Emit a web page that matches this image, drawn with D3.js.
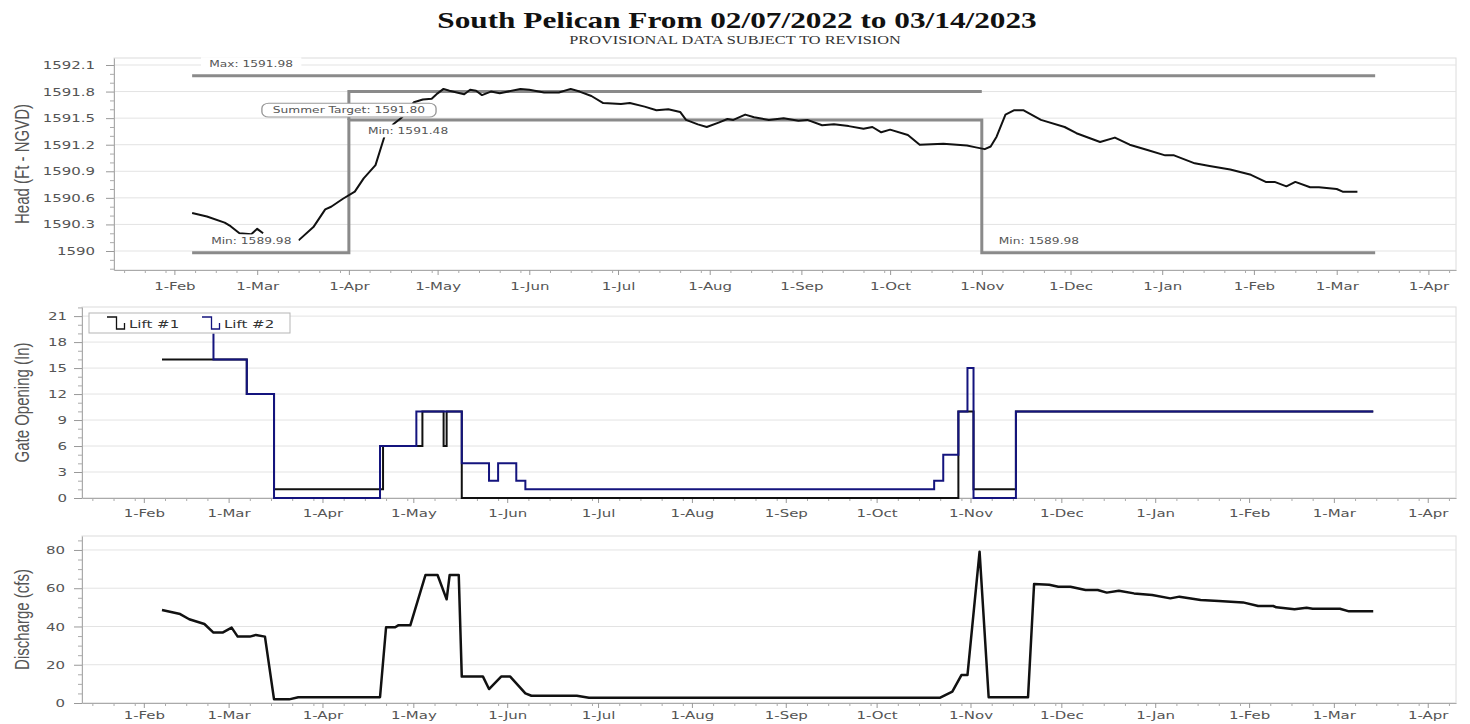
<!DOCTYPE html>
<html><head><meta charset="utf-8">
<script src="https://cdn.jsdelivr.net/npm/d3@7"></script>
<style>body{margin:0;background:#fff;}svg{display:block;}</style>
</head><body>
<svg id="c" width="1470" height="724"></svg>
<script>
// ---------- DATA ----------
const headDates = ["2022-02-07","2022-02-12","2022-02-18","2022-02-20","2022-02-23","2022-02-27","2022-03-01","2022-03-03","2022-03-09","2022-03-15","2022-03-20","2022-03-24","2022-03-26","2022-03-30","2022-04-03","2022-04-06","2022-04-10","2022-04-13","2022-04-16","2022-04-19","2022-04-23","2022-04-26","2022-04-29","2022-05-01","2022-05-03","2022-05-05","2022-05-10","2022-05-12","2022-05-14","2022-05-16","2022-05-19","2022-05-22","2022-05-29","2022-06-01","2022-06-06","2022-06-11","2022-06-15","2022-06-18","2022-06-22","2022-06-26","2022-07-02","2022-07-05","2022-07-10","2022-07-14","2022-07-18","2022-07-22","2022-07-24","2022-07-28","2022-07-31","2022-08-04","2022-08-07","2022-08-09","2022-08-13","2022-08-16","2022-08-21","2022-08-26","2022-08-31","2022-09-03","2022-09-08","2022-09-12","2022-09-17","2022-09-22","2022-09-25","2022-09-28","2022-10-01","2022-10-07","2022-10-11","2022-10-19","2022-10-27","2022-10-30","2022-11-02","2022-11-04","2022-11-06","2022-11-09","2022-11-12","2022-11-15","2022-11-21","2022-11-29","2022-12-03","2022-12-11","2022-12-16","2022-12-21","2022-12-27","2023-01-02","2023-01-05","2023-01-12","2023-01-17","2023-01-24","2023-01-31","2023-02-05","2023-02-08","2023-02-12","2023-02-15","2023-02-20","2023-02-23","2023-03-01","2023-03-03","2023-03-08"];
const headValues = [1590.43,1590.39,1590.32,1590.28,1590.20,1590.19,1590.25,1590.20,null,1590.12,1590.27,1590.47,1590.50,1590.59,1590.67,1590.82,1590.97,1591.29,1591.43,1591.51,1591.68,1591.71,1591.72,1591.78,1591.83,1591.81,1591.77,1591.82,1591.81,1591.76,1591.80,1591.78,1591.83,1591.82,1591.79,1591.79,1591.83,1591.80,1591.75,1591.67,1591.66,1591.67,1591.63,1591.59,1591.60,1591.57,1591.48,1591.43,1591.40,1591.45,1591.49,1591.48,1591.54,1591.51,1591.48,1591.50,1591.47,1591.48,1591.42,1591.43,1591.41,1591.38,1591.40,1591.34,1591.37,1591.31,1591.20,1591.21,1591.19,1591.17,1591.15,1591.18,1591.29,1591.54,1591.59,1591.59,1591.48,1591.40,1591.33,1591.23,1591.28,1591.20,1591.14,1591.08,1591.08,1590.99,1590.96,1590.92,1590.86,1590.78,1590.78,1590.73,1590.78,1590.72,1590.72,1590.70,1590.67,1590.67];

const maxDates = ["2022-02-07","2023-03-14"];
const maxValues = [1591.98,1591.98];
const minDates = ["2022-02-07","2022-04-01","2022-11-01","2023-03-14"];
const minValues = [1589.98,1591.48,1589.98,1589.98];
const targetDates = ["2022-04-01","2022-04-01","2022-11-01"];
const targetValues = [1591.48,1591.80,1591.80];

const lift1Dates = ["2022-02-07","2022-03-07","2022-03-16","2022-04-21","2022-05-04","2022-05-11","2022-05-12","2022-05-17","2022-10-28","2022-11-02","2022-11-16","2023-03-14"];
const lift1Values = [16,12,1,6,10,6,10,0,10,1,10,10];
const lift2Dates = ["2022-02-24","2022-02-24","2022-03-07","2022-03-16","2022-04-20","2022-05-02","2022-05-17","2022-05-26","2022-05-29","2022-06-04","2022-06-07","2022-10-20","2022-10-23","2022-10-28","2022-10-31","2022-11-02","2022-11-16","2023-03-14"];
const lift2Values = [19,16,12,0,6,10,4,2,4,2,1,2,5,10,15,0,10,10];

const dischargeDates = ["2022-02-07","2022-02-13","2022-02-16","2022-02-21","2022-02-24","2022-02-27","2022-03-02","2022-03-04","2022-03-08","2022-03-10","2022-03-13","2022-03-16","2022-03-21","2022-03-24","2022-04-20","2022-04-22","2022-04-25","2022-04-26","2022-04-30","2022-05-05","2022-05-09","2022-05-12","2022-05-13","2022-05-16","2022-05-17","2022-05-24","2022-05-26","2022-05-30","2022-06-02","2022-06-07","2022-06-09","2022-06-24","2022-06-28","2022-10-22","2022-10-26","2022-10-29","2022-10-31","2022-11-04","2022-11-07","2022-11-20","2022-11-22","2022-11-27","2022-11-30","2022-12-04","2022-12-09","2022-12-13","2022-12-16","2022-12-20","2022-12-25","2022-12-31","2023-01-06","2023-01-09","2023-01-16","2023-01-22","2023-01-30","2023-02-04","2023-02-09","2023-02-10","2023-02-16","2023-02-20","2023-02-22","2023-03-03","2023-03-06","2023-03-14"];
const dischargeValues = [48.6,46.5,43.8,41.3,36.8,36.8,39.4,34.7,34.7,35.6,34.7,1.9,1.9,3.0,3.0,39.6,39.6,40.6,40.6,66.9,66.9,54.2,66.9,66.9,13.8,13.8,7.3,13.8,13.8,5.0,3.8,3.8,2.8,2.8,5.9,14.6,14.6,79.1,3.0,3.0,62.2,61.8,60.8,60.8,59.1,59.1,57.7,58.7,57.3,56.5,54.7,55.6,53.9,53.3,52.6,50.7,50.7,50.0,49.0,49.8,49.3,49.3,47.9,47.9];

const headTicks = [1590,1590.3,1590.6,1590.9,1591.2,1591.5,1591.8,1592.1];
const gateTicks = [0,3,6,9,12,15,18,21];
const dischargeTicks = [0,20,40,60,80];
const xDomainStrings = ["2022-01-11T14","2023-04-10T08"];

// ---------- SETUP ----------
const SX = 1.36;               // horizontal stretch of the original image
const FONT = "'DejaVu Sans', Verdana, sans-serif";
const parse = d3.timeParse("%Y-%m-%d");
const parseH = d3.timeParse("%Y-%m-%dT%H");
const xDomain = xDomainStrings.map(parseH);
const svg = d3.select("#c");
const zip = (ds, vs) => ds.map((d, i) => ({date: parse(d), value: vs[i]}));

// Title
svg.append("text").attr("transform", `translate(737,28) scale(${SX},1)`)
  .attr("text-anchor", "middle").attr("font-family", "'Liberation Serif', 'Times New Roman', serif")
  .attr("font-weight", "bold").attr("font-size", 23).attr("fill", "#111")
  .text("South Pelican From 02/07/2022 to 03/14/2023");
svg.append("text").attr("transform", `translate(735,44) scale(${SX},1)`)
  .attr("text-anchor", "middle").attr("font-family", "'Liberation Serif', 'Times New Roman', serif")
  .attr("font-size", 12).attr("fill", "#333")
  .text("PROVISIONAL DATA SUBJECT TO REVISION");

function panel(cfg) {
  const {left, right, top, bottom, yDomain, ticks, minorStep, title, fmt, labelOff, xLabelY} = cfg;
  const x = d3.scaleTime().domain(xDomain).range([left, right]);
  const y = d3.scaleLinear().domain(yDomain).range([bottom, top]);
  const g = svg.append("g");
  g.append("rect").attr("x", left).attr("y", top).attr("width", right - left).attr("height", bottom - top)
    .attr("fill", "#fff").attr("stroke", "#dcdcdc");
  g.append("g").selectAll("line").data(ticks).join("line")
    .attr("x1", left).attr("x2", right).attr("y1", d => y(d)).attr("y2", d => y(d))
    .attr("stroke", "#e3e3e3");
  const minor = d3.range(Math.ceil(yDomain[0] / minorStep) * minorStep, yDomain[1], minorStep)
    .filter(v => !ticks.some(t => Math.abs(t - v) < 1e-6));
  const ym = g.append("g").attr("transform", `translate(${left},0)`)
    .call(d3.axisLeft(y).tickValues(minor).tickSize(4).tickSizeOuter(0).tickFormat(""));
  ym.select(".domain").remove();
  ym.selectAll("line").attr("stroke", "#aaa");
  const ya = g.append("g").attr("transform", `translate(${left},0)`)
    .call(d3.axisLeft(y).tickValues(ticks).tickSize(8).tickSizeOuter(0).tickFormat(fmt));
  ya.select(".domain").attr("stroke", "#aaa");
  ya.selectAll(".tick line").attr("stroke", "#999");
  ya.selectAll("text").attr("font-family", FONT).attr("font-size", 11).attr("fill", "#555")
    .attr("x", -labelOff / SX).attr("transform", `scale(${SX},1)`);
  const minorX = d3.timeDay.range(xDomain[0], xDomain[1]).filter(d => [8, 15, 22, 29].includes(d.getDate()));
  const xm = g.append("g").attr("transform", `translate(0,${bottom})`)
    .call(d3.axisBottom(x).tickValues(minorX).tickSize(3).tickSizeOuter(0).tickFormat(""));
  xm.select(".domain").remove();
  xm.selectAll("line").attr("stroke", "#aaa");
  const xa = g.append("g").attr("transform", `translate(0,${bottom})`)
    .call(d3.axisBottom(x).ticks(d3.timeMonth.every(1)).tickSize(5).tickSizeOuter(0).tickFormat(d3.timeFormat("%-d-%b")));
  xa.select(".domain").attr("stroke", "#aaa");
  xa.selectAll(".tick line").attr("stroke", "#999");
  xa.selectAll("text").attr("font-family", FONT).attr("font-size", 11).attr("fill", "#555")
    .attr("y", xLabelY).attr("dy", 0).attr("transform", `scale(${SX},1)`);
  svg.append("text").attr("transform", `translate(21.5,${(top + bottom) / 2}) scale(${SX},1) rotate(-90)`)
    .attr("text-anchor", "middle").attr("dy", "0.35em")
    .attr("font-family", "'Liberation Sans', Arial, sans-serif").attr("font-size", 15).attr("fill", "#555")
    .text(title);
  return {x, y, g};
}

function label(g, x, y, txt, opts = {}) {
  const lg = g.append("g").attr("transform", `translate(${x},${y}) scale(${SX},1)`);
  const r = lg.append("rect").attr("fill", "#fff");
  const t = lg.append("text").attr("font-family", FONT).attr("font-size", 9).attr("fill", "#555")
    .attr("text-anchor", opts.anchor || "start").text(txt);
  const bb = t.node().getBBox();
  const px = opts.padX ?? 5, py = opts.padY ?? 1;
  r.attr("x", bb.x - px).attr("y", bb.y - py).attr("width", bb.width + 2 * px).attr("height", bb.height + 2 * py);
  if (opts.box) r.attr("stroke", "#999").attr("stroke-width", 1).attr("rx", 5);
  return lg;
}

// ---------- HEAD PANEL ----------
const H = panel({left: 114, right: 1456, top: 58, bottom: 270, yDomain: [1589.7855, 1592.179],
  ticks: headTicks, minorStep: 0.1, title: "Head (Ft - NGVD)", fmt: d => String(+d.toFixed(1)), labelOff: 19, xLabelY: 20});
const lineH = d3.line().defined(d => d.value != null).x(d => H.x(d.date)).y(d => H.y(d.value));
const thr = [zip(maxDates, maxValues), zip(minDates, minValues), zip(targetDates, targetValues)];
H.g.append("path").datum(thr[0]).attr("d", lineH).attr("fill", "none").attr("stroke", "#8a8a8a").attr("stroke-width", 3);
H.g.append("path").datum(thr[1]).attr("d", lineH.curve(d3.curveStepAfter)).attr("fill", "none").attr("stroke", "#8a8a8a").attr("stroke-width", 3);
lineH.curve(d3.curveLinear);
H.g.append("path").datum(thr[2]).attr("d", lineH).attr("fill", "none").attr("stroke", "#8a8a8a").attr("stroke-width", 3);
H.g.append("path").datum(zip(headDates, headValues)).attr("d", lineH).attr("fill", "none")
  .attr("stroke", "#111").attr("stroke-width", 2).attr("stroke-linejoin", "round");
const d0 = parse(minDates[0]), dApr = parse(minDates[1]), dNov = parse(minDates[2]);
label(H.g, H.x(d0) + 17, H.y(maxValues[0]) - 9, "Max: " + maxValues[0].toFixed(2), {padX: 6});
label(H.g, H.x(d0) + 19, H.y(minValues[0]) - 9, "Min: " + minValues[0].toFixed(2));
label(H.g, H.x(dApr) + 19, H.y(minValues[1]) + 14, "Min: " + minValues[1].toFixed(2), {padX: 2});
label(H.g, H.x(dNov) + 17, H.y(minValues[2]) - 9, "Min: " + minValues[2].toFixed(2));
label(H.g, H.x(dApr), H.y(targetValues[2]) + 21.5, "Summer Target: " + targetValues[2].toFixed(2),
  {anchor: "middle", box: true, padX: 8, padY: 1.5});

// ---------- GATE PANEL ----------
const G = panel({left: 82, right: 1456, top: 307, bottom: 498, yDomain: [0, 22.05],
  ticks: gateTicks, minorStep: 1, title: "Gate Opening (In)", fmt: d => d, labelOff: 15, xLabelY: 19});
const lineG = d3.line().curve(d3.curveStepAfter).x(d => G.x(d.date)).y(d => G.y(d.value));
G.g.append("path").datum(zip(lift1Dates, lift1Values)).attr("d", lineG).attr("fill", "none")
  .attr("stroke", "#111").attr("stroke-width", 2);
G.g.append("path").datum(zip(lift2Dates, lift2Values)).attr("d", lineG).attr("fill", "none")
  .attr("stroke", "#14147e").attr("stroke-width", 2);
const lg = G.g.append("g").attr("transform", `translate(${82 + 7},${307 + 6})`);
lg.append("rect").attr("width", 201).attr("height", 20).attr("fill", "#fff").attr("stroke", "#b5b5b5");
const items = [{name: "Lift #1", color: "#111", x: 18}, {name: "Lift #2", color: "#14147e", x: 113}];
items.forEach(it => {
  lg.append("path").attr("d", `M${it.x},4 H${it.x + 9.5} V16 H${it.x + 17.5} V10`)
    .attr("fill", "none").attr("stroke", it.color).attr("stroke-width", 1.3);
  lg.append("text").attr("transform", `translate(${it.x + 22},14.5) scale(${SX},1)`)
    .attr("font-family", FONT).attr("font-size", 11).attr("fill", "#333").text(it.name);
});

// ---------- DISCHARGE PANEL ----------
const D = panel({left: 82, right: 1456, top: 536, bottom: 703, yDomain: [0, 87.3],
  ticks: dischargeTicks, minorStep: 5, title: "Discharge (cfs)", fmt: d => d, labelOff: 17, xLabelY: 16.5});
const lineD = d3.line().x(d => D.x(d.date)).y(d => D.y(d.value));
D.g.append("path").datum(zip(dischargeDates, dischargeValues)).attr("d", lineD).attr("fill", "none")
  .attr("stroke", "#111").attr("stroke-width", 2.5).attr("stroke-linejoin", "round");
</script>
</body></html>
